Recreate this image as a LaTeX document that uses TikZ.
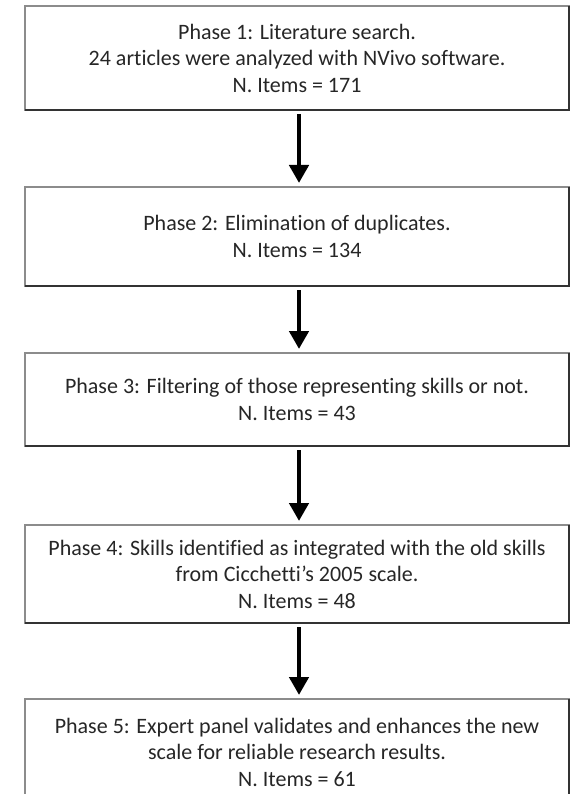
\documentclass[tikz,border=0pt]{standalone}
\usepackage{fontspec}
\setmainfont[Ligatures={NoCommon}]{Carlito}
\usetikzlibrary{arrows.meta}
\begin{document}
\begin{tikzpicture}[x=1pt,y=-1pt,
  phase/.style={draw=black!45, line width=2pt, fill=white, minimum width=544pt,
    inner sep=0pt, outer sep=0pt, align=center, text=black!85,
    font=\fontsize{22}{26.5}\selectfont},
  shade edge/.style={draw=black!80, line width=2pt},
  flow/.style={line width=4.5pt, -{Triangle[width=19pt,length=18pt]},
    shorten <=4pt, shorten >=4pt}
]
\useasboundingbox (0,0) rectangle (571,794);
\clip (0,0) rectangle (571,794);
\fill[white] (0,0) rectangle (571,794);

% the five phases of the scale construction
\node[phase, minimum height=104pt] (b1) at (297,58)
  {Phase 1: Literature search.\\24 articles were analyzed with NVivo software.\\N. Items = 171};
\node[phase, minimum height=99pt] (b2) at (297,236.5)
  {Phase 2: Elimination of duplicates.\\N. Items = 134};
\node[phase, minimum height=93pt] (b3) at (297,399.5)
  {Phase 3: Filtering of those representing skills or not.\\N. Items = 43};
\node[phase, minimum height=98pt] (b4) at (297,574)
  {Phase 4: Skills identified as integrated with the old skills\\from Cicchetti’s 2005 scale.\\N. Items = 48};
\node[phase, minimum height=106pt] (b5) at (297,752)
  {Phase 5: Expert panel validates and enhances the new\\scale for reliable research results.\\N. Items = 61};

% darker right and bottom edges
\foreach \b in {b1,b2,b3,b4,b5}
  \draw[shade edge] (\b.north east) -- (\b.south east) -- (\b.south west);

% arrows between phases
\draw[flow] ([xshift=2pt]b1.south) -- ([xshift=2pt]b2.north);
\draw[flow] ([xshift=2pt]b2.south) -- ([xshift=2pt]b3.north);
\draw[flow] ([xshift=2pt]b3.south) -- ([xshift=2pt]b4.north);
\draw[flow] ([xshift=2pt]b4.south) -- ([xshift=2pt]b5.north);
\end{tikzpicture}
\end{document}
